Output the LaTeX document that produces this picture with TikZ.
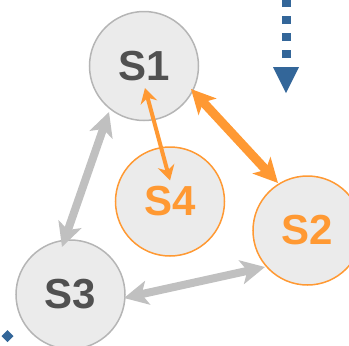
\documentclass[tikz,border=0pt]{standalone}
\usepackage{fontspec}
\setmainfont{Liberation Sans}
\usetikzlibrary{arrows.meta,calc}
\definecolor{cfill}{HTML}{EBEBEB}
\definecolor{cedge}{HTML}{B5B5B5}
\definecolor{corange}{HTML}{FF9933}
\definecolor{ctext}{HTML}{505050}
\definecolor{carrow}{HTML}{C0C0C0}
\definecolor{cblue}{HTML}{336699}
\tikzset{
  state/.style={circle, minimum size=109pt, inner sep=0pt, outer sep=0pt,
    fill=cfill, line width=1.5pt, font=\bfseries\fontsize{42}{42}\selectfont},
  graystate/.style={state, draw=cedge, text=ctext},
  orangestate/.style={state, draw=corange, text=corange},
  bigarrow/.style={{Stealth[length=24pt,width=24pt,inset=6pt]}-{Stealth[length=24pt,width=24pt,inset=6pt]}},
  smallarrow/.style={{Stealth[length=15pt,width=17pt,inset=5pt]}-{Stealth[length=15pt,width=17pt,inset=5pt]}},
}
\begin{document}
\begin{tikzpicture}[x=1pt,y=-1pt]
\useasboundingbox (0,0) rectangle (349,346);
\node[graystate]   (S1) at (144,66)   {\raisebox{-2pt}{S1}};
\node[orangestate] (S4) at (170,201.5) {\raisebox{-2pt}{S4}};
\node[orangestate] (S2) at (307.5,230.5) {\raisebox{-4pt}{S2}};
\node[graystate]   (S3) at (70.5,294.5) {\raisebox{-2pt}{S3}};
% arrows
\draw[smallarrow, corange, line width=4pt]
  ([shift={(1,22)}]S1.center) -- ([shift={(0,-21)}]S4.center);
\draw[bigarrow, corange, line width=9pt]
  ([shift={(47,23)}]S1.center) -- ([shift={(-29.5,-47.5)}]S2.center);
\draw[bigarrow, carrow, line width=8pt]
  ([shift={(-35,46)}]S1.center) -- ([shift={(-8.5,-47.5)}]S3.center);
\draw[bigarrow, carrow, line width=8pt]
  ([shift={(53.5,3.5)}]S3.center) -- ([shift={(-42.5,36.5)}]S2.center);
% blue dotted arrow fragment
\coordinate (bstart) at (286,58);
\coordinate (bend) at (286,-10);
\draw[cblue, line width=9pt, dash pattern=on 8.5pt off 8.5pt] (bstart) -- (bend);
\coordinate (tl) at (273,67);
\coordinate (tr) at (299,67);
\coordinate (tb) at (286,93);
\fill[cblue] (tl) -- (tr) -- (tb) -- cycle;
% blue diamond
\coordinate (dm) at (7.5,336);
\fill[cblue] ($(dm)+(-6,0)$) -- ($(dm)+(0,-6)$) -- ($(dm)+(6,0)$) -- ($(dm)+(0,6)$) -- cycle;
\end{tikzpicture}
\end{document}
